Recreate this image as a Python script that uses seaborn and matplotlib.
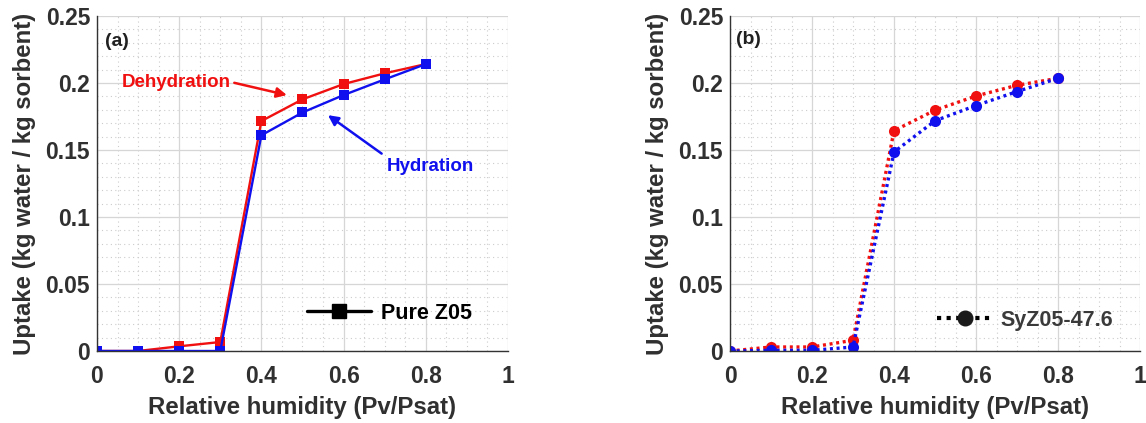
import numpy as np
import pandas as pd
import seaborn as sns
import matplotlib.pyplot as plt
from matplotlib.lines import Line2D
from matplotlib.ticker import MultipleLocator

rh = [0, 0.1, 0.2, 0.3, 0.4, 0.5, 0.6, 0.7, 0.8]

# (a) pure Z05
z05_dehydration = [0.0, 0.0, 0.0035, 0.0067, 0.1716, 0.1878, 0.1992, 0.2072, 0.2141]
z05_hydration = [0.0, 0.0, 0.0, 0.0, 0.1610, 0.1780, 0.1910, 0.2027, 0.2141]

# (b) SyZ05-47.6
syz_dehydration = [0.0, 0.003, 0.003, 0.008, 0.1644, 0.1797, 0.1903, 0.1983, 0.2035]
syz_hydration = [0.0, 0.0005, 0.0005, 0.003, 0.1485, 0.1718, 0.1832, 0.1936, 0.2035]

x_ticks = [0, 0.2, 0.4, 0.6, 0.8, 1]
x_tick_labels = ["0", "0.2", "0.4", "0.6", "0.8", "1"]
y_ticks = [0, 0.05, 0.1, 0.15, 0.2, 0.25]
y_tick_labels = ["0", "0.05", "0.1", "0.15", "0.2", "0.25"]

RED = "#f01010"
BLUE = "#1010ee"
TXT = "#303030"

sns.set_style("white")
plt.rcParams["font.family"] = ["Liberation Sans", "DejaVu Sans"]
plt.rcParams["font.weight"] = "bold"

fig = plt.figure(figsize=(11.46, 4.23), dpi=100)
ax_a = fig.add_axes([0.0846, 0.1702, 0.3587, 0.7920])
ax_b = fig.add_axes([0.6370, 0.1702, 0.3578, 0.7920])


def long_frame(dehyd, hyd):
    return pd.DataFrame({
        "rh": rh * 2,
        "uptake": dehyd + hyd,
        "branch": ["Dehydration"] * len(rh) + ["Hydration"] * len(rh),
    })


def style_axes(ax):
    ax.set_xlim(0, 1)
    ax.set_ylim(0, 0.25)
    ax.set_xticks(x_ticks)
    ax.set_xticklabels(x_tick_labels)
    ax.set_yticks(y_ticks)
    ax.set_yticklabels(y_tick_labels)
    ax.xaxis.set_minor_locator(MultipleLocator(0.05))
    ax.yaxis.set_minor_locator(MultipleLocator(0.01))
    ax.grid(which="major", color="#d6d6d6", linewidth=0.9, linestyle="-")
    ax.grid(which="minor", color="#cccccc", linewidth=0.8, linestyle=(0, (1, 3)))
    ax.set_axisbelow(True)
    for side in ("top", "right"):
        ax.spines[side].set_visible(False)
    for side in ("left", "bottom"):
        ax.spines[side].set_color("#333333")
        ax.spines[side].set_linewidth(1.0)
    ax.tick_params(which="major", direction="in", length=4, width=0.8,
                   colors="#333333", labelsize=16.5, labelcolor=TXT)
    ax.tick_params(axis="x", which="major", pad=10)
    ax.tick_params(axis="y", which="major", pad=5)
    ax.tick_params(which="minor", length=0)
    for lab in ax.get_xticklabels() + ax.get_yticklabels():
        lab.set_fontweight("bold")
    ax.set_xlabel("Relative humidity (Pv/Psat)", fontsize=17.3, fontweight="bold",
                  color=TXT, labelpad=6)
    ax.set_ylabel("Uptake (kg water / kg sorbent)", fontsize=17.3, fontweight="bold",
                  color=TXT, labelpad=7)


palette = {"Dehydration": RED, "Hydration": BLUE}

# panel (a): solid lines with square markers
sns.lineplot(data=long_frame(z05_dehydration, z05_hydration), x="rh", y="uptake",
             hue="branch", palette=palette, marker="s", markersize=6.5,
             markeredgewidth=0, linewidth=1.7, legend=False, ax=ax_a)
style_axes(ax_a)
ax_a.text(0.019, 0.925, "(a)", transform=ax_a.transAxes, fontsize=14,
          fontweight="bold", color="#202020", va="center")
ax_a.annotate("Dehydration", xy=(0.462, 0.191), xytext=(0.061, 0.2007),
              fontsize=13.5, fontweight="bold", color=RED, va="center",
              arrowprops=dict(arrowstyle="-|>", color=RED, lw=1.8,
                              mutation_scale=15, shrinkA=0, shrinkB=0,
                              relpos=(1, 0.5)))
ax_a.annotate("Hydration", xy=(0.562, 0.176), xytext=(0.706, 0.138),
              fontsize=13.5, fontweight="bold", color=BLUE, va="center",
              arrowprops=dict(arrowstyle="-|>", color=BLUE, lw=1.8,
                              mutation_scale=15, shrinkA=2, shrinkB=0,
                              relpos=(0, 1)))
leg_a = ax_a.legend(handles=[Line2D([], [], color="black", linewidth=2.4,
                                    marker="s", markersize=10.5)],
                    labels=["Pure Z05"], loc="center left",
                    bbox_to_anchor=(0.51, 0.113), frameon=False,
                    handlelength=3.0, handletextpad=0.45, borderpad=0,
                    borderaxespad=0, prop={"size": 15.5, "weight": "bold"})
for t in leg_a.get_texts():
    t.set_color("black")

# panel (b): dotted lines with circle markers
sns.lineplot(data=long_frame(syz_dehydration, syz_hydration), x="rh", y="uptake",
             hue="branch", palette=palette, marker="o", markersize=8,
             markeredgewidth=0, linewidth=2.4, linestyle=(0, (0.9, 1.1)),
             legend=False, ax=ax_b)
style_axes(ax_b)
ax_b.text(0.015, 0.93, "(b)", transform=ax_b.transAxes, fontsize=14,
          fontweight="bold", color="#202020", va="center")
leg_b = ax_b.legend(handles=[Line2D([], [], color="black", linewidth=3.0,
                                    linestyle=(0, (1, 1.3)), marker="o",
                                    markersize=10.5, markerfacecolor="#1a1a1a",
                                    markeredgecolor="#1a1a1a")],
                    labels=["SyZ05-47.6"], loc="center left",
                    bbox_to_anchor=(0.505, 0.0925), frameon=False,
                    handlelength=2.6, handletextpad=0.35, borderpad=0,
                    borderaxespad=0, prop={"size": 15.5, "weight": "bold"})
for t in leg_b.get_texts():
    t.set_color("#3a3a3a")

fig.savefig("out.png", dpi=100)
